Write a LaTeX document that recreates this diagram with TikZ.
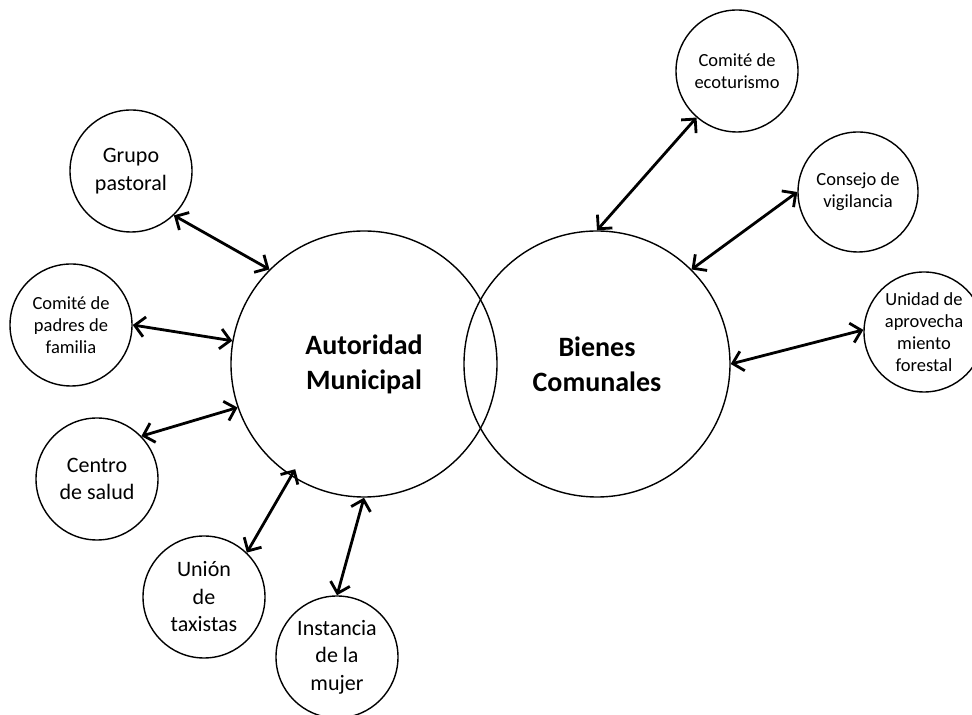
\documentclass[tikz,border=0pt]{standalone}
\usepackage{fontspec}
\setmainfont{Carlito}
\usetikzlibrary{arrows.meta}
\begin{document}
\begin{tikzpicture}[x=1bp,y=1bp,
  big/.style={circle, draw, line width=1.4bp, minimum size=266bp, inner sep=0pt, align=center, font=\fontsize{28bp}{35bp}\selectfont\bfseries},
  mid/.style={circle, draw, line width=1.4bp, minimum size=122bp, inner sep=0pt, align=center, font=\fontsize{22bp}{27.5bp}\selectfont},
  sml/.style={circle, draw, line width=1.4bp, minimum size=122bp, inner sep=0pt, align=center, font=\fontsize{18.5bp}{22bp}\selectfont},
  link/.style={line width=2.8bp, {Straight Barb[length=10bp,width=20bp]}-{Straight Barb[length=10bp,width=20bp]}}]
\useasboundingbox (0,0) rectangle (972,715);
% main circles
\node[big] (am) at (364,351) {Autoridad\\Municipal};
\node[big] (bc) at (597,351) {Bienes\\Comunales};
% satellites of Autoridad Municipal
\node[mid] (grp) at (131,544) {Grupo\\pastoral};
\node[sml] (pad) at (71,390) {Comité de\\padres de\\familia};
\node[mid] (cen) at (97,236) {Centro\\de salud};
\node[mid] (uni) at (204,118) {Unión\\de\\taxistas};
\node[mid] (ins) at (337,58) {Instancia\\de la\\mujer};
% satellites of Bienes Comunales
\node[sml] (eco) at (737,644) {Comité de\\ecoturismo};
\node[sml, minimum size=120bp] (con) at (858,523) {Consejo de\\vigilancia};
\node[sml, minimum size=120bp] (udf) at (924,383) {Unidad de\\aprovecha\\miento\\forestal};
% connectors
\draw[link] (grp.-46) -- (am.135);
\draw[link] (pad.0) -- (am.170);
\draw[link] (cen.44) -- (am.199);
\draw[link, shorten >=-8bp] (uni.46) -- (am.237);
\draw[link] (ins.90) -- (am.270);
\draw[link] (eco.229) -- (bc.90);
\draw[link] (con.180) -- (bc.45);
\draw[link] (udf.178) -- (bc.0);
\end{tikzpicture}
\end{document}
